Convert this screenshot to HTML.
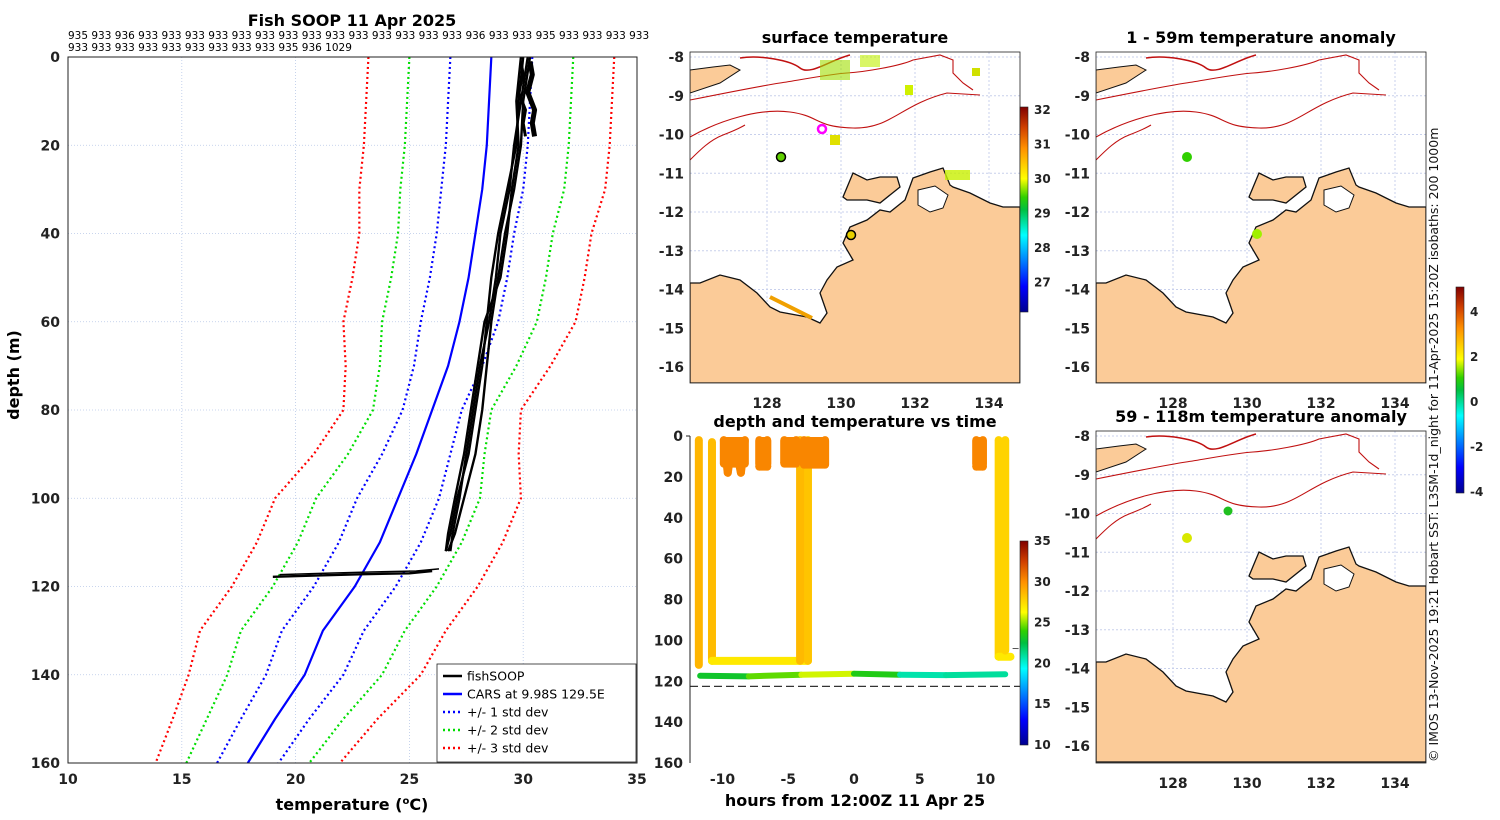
<!DOCTYPE html>
<html><head><meta charset="utf-8"><style>
body{margin:0;background:#fff;overflow:hidden;}
svg{display:block;font-family:"DejaVu Sans","Liberation Sans",sans-serif;}
.t{font-weight:bold;font-size:16px;}
.tk{font-weight:bold;font-size:14px;fill:#222;}
.cb{font-weight:bold;font-size:12px;fill:#222;}
</style></head><body>
<svg id="fig" width="1500" height="820" viewBox="0 0 1500 820">
<defs>
<clipPath id="cl"><rect x="68" y="57" width="569" height="706"/></clipPath>
<clipPath id="cm"><rect x="690" y="436" width="330" height="327"/></clipPath>
<linearGradient id="jetv" x1="0" y1="1" x2="0" y2="0">
<stop offset="0" stop-color="#00008f"/><stop offset="0.125" stop-color="#0000ff"/><stop offset="0.375" stop-color="#00ffff"/><stop offset="0.5" stop-color="#00c040"/><stop offset="0.56" stop-color="#30d000"/><stop offset="0.65" stop-color="#ffff00"/><stop offset="0.8" stop-color="#ff9000"/><stop offset="0.9" stop-color="#d04000"/><stop offset="1" stop-color="#800000"/>
</linearGradient>
</defs>
<g id="left"></g>
<g id="mid"></g>
<g id="maps"></g>
<text x="0" y="0" transform="translate(1438,762) rotate(-90)" font-size="12.5" fill="#111">© IMOS 13-Nov-2025 19:21 Hobart SST: L3SM-1d_night for 11-Apr-2025 15:20Z isobaths: 200  1000m</text>
</svg>
<script>
const NS="http://www.w3.org/2000/svg";
function mk(p,tag,at,txt){const e=document.createElementNS(NS,tag);for(const k in at)e.setAttribute(k,at[k]);if(txt!==undefined)e.textContent=txt;p.appendChild(e);return e;}

// ---------- profile chart data ----------
const profDepths=[0,10,20,30,40,50,60,70,80,90,100,110,120,130,140,150,160];
const carsMean=[28.6,28.5,28.4,28.2,27.9,27.6,27.2,26.7,26.0,25.3,24.5,23.7,22.6,21.2,20.4,19.1,17.9];
const carsStd=[1.8,1.8,1.8,1.8,1.7,1.7,1.7,1.5,1.3,1.5,1.8,1.8,1.8,1.8,1.7,1.5,1.35];
const tempTicks=[10,15,20,25,30,35];
const depthTicks=[0,20,40,60,80,100,120,140,160];
const castDepths=[0,10,20,30,40,50,60,70,80,90,100,108,112];
const castA=[30.3,30.0,29.9,29.6,29.2,28.9,28.6,28.4,28.2,27.9,27.4,27.0,26.7];
const castB=[30.0,29.8,29.7,29.3,28.9,28.6,28.4,28.2,27.9,27.6,27.1,26.8,26.6];
const castC=[30.2,29.9,29.6,29.4,29.0,28.8,28.5,28.1,27.8,27.5,27.2,26.9,26.8];
const castD=[29.9,29.7,29.8,29.5,29.3,29.0,28.3,28.0,27.7,27.4,27.0,26.7,26.6];
const surfDepths=[1,4,8,12,15,18];
const surfTemps=[30.3,30.4,30.2,30.5,30.4,30.5];
const bottomTemps=[19.0,21.0,23.0,25.0,26.0];
const bottomDepths=[117.8,117.5,117.2,117.0,116.5];
const header1="935 933 936 933 933 933 933 933 933 933 933 933 933 933 933 933 933 936 933 933 935 933 933 933 933";
const header2="933 933 933 933 933 933 933 933 933 935 936 1029";

const L=document.getElementById('left');
const lx=t=>68+(t-10)*569/25, ly=d=>57+d*706/160;
mk(L,'text',{x:352,y:26,'text-anchor':'middle',class:'t',},'Fish SOOP 11 Apr 2025');
mk(L,'text',{x:68,y:39,'font-size':10.5,},header1);
mk(L,'text',{x:68,y:51,'font-size':10.5,},header2);
tempTicks.forEach(t=>{
 mk(L,'line',{x1:lx(t),x2:lx(t),y1:57,y2:763,stroke:'#b8c8e8','stroke-dasharray':'1 2','stroke-width':0.8});
 mk(L,'text',{x:lx(t),y:784,'text-anchor':'middle',class:'tk',},t);
});
depthTicks.forEach(d=>{
 mk(L,'line',{x1:68,x2:637,y1:ly(d),y2:ly(d),stroke:'#b8c8e8','stroke-dasharray':'1 2','stroke-width':0.8});
 mk(L,'text',{x:60,y:ly(d)+5,'text-anchor':'end',class:'tk',},d);
});
const lg=mk(L,'g',{'clip-path':'url(#cl)'});
function prof(temps,depths,col,dash,w,name){
 const e=mk(lg,'polyline',{points:temps.map((t,i)=>lx(t)+','+ly(depths[i])).join(' '),fill:'none',stroke:col,'stroke-width':w,'stroke-dasharray':dash||'none','stroke-linejoin':'round'});
 
 
}
[[3,'#ff0000','std3'],[2,'#00dd00','std2'],[1,'#0000ff','std1']].forEach(([k,c,n])=>{
 prof(carsMean.map((m,i)=>m-k*carsStd[i]),profDepths,c,'2 3',2.2,n+'-left-line');
 prof(carsMean.map((m,i)=>m+k*carsStd[i]),profDepths,c,'2 3',2.2,n+'-right-line');
});
prof(carsMean,profDepths,'#0000ff',null,2.2,'cars-line');
[castA,castB,castC,castD].forEach((c,i)=>prof(c,castDepths,'#000',null,2.4,'fishsoop-cast-'+i));
prof(surfTemps,surfDepths,'#000',null,5,'fishsoop-surface');
prof(surfTemps.map(t=>t-0.4),surfDepths,'#000',null,3,'fishsoop-surface-2');
prof(bottomTemps,bottomDepths,'#000',null,2.4,'fishsoop-bottom');
prof(bottomTemps.map(t=>t+0.3),bottomDepths.map(d=>d-0.5),'#000',null,1.5,'fishsoop-bottom-2');
mk(L,'rect',{x:68,y:57,width:569,height:706,fill:'none',stroke:'#222','stroke-width':1,});
mk(L,'text',{x:0,y:0,transform:'translate(19,375) rotate(-90)','text-anchor':'middle',class:'t','font-size':15,},'depth (m)');
const xt=mk(L,'text',{x:352,y:810,'text-anchor':'middle',class:'t','font-size':15,});
xt.innerHTML='temperature (<tspan font-size="10" dy="-6">o</tspan><tspan dy="6">C)</tspan>';
const leg=mk(L,'g',{});
mk(leg,'rect',{x:437,y:664,width:199,height:98,fill:'#fff',stroke:'#222','stroke-width':0.8});
[['fishSOOP','#000',null],['CARS at 9.98S 129.5E','#0000ff',null],['+/- 1 std dev','#0000ff','2 3'],['+/- 2 std dev','#00dd00','2 3'],['+/- 3 std dev','#ff0000','2 3']].forEach(([s,c,d],i)=>{
 const y=676+i*18;
 mk(leg,'line',{x1:443,x2:462,y1:y,y2:y,stroke:c,'stroke-width':2.4,'stroke-dasharray':d||'none'});
 mk(leg,'text',{x:467,y:y+4.5,'font-size':12.5,},s);
});

// ---------- depth vs time ----------
const cmStops=[[0,[0,0,143]],[0.125,[0,0,255]],[0.375,[0,255,255]],[0.5,[0,192,64]],[0.56,[48,208,0]],[0.65,[255,255,0]],[0.8,[255,144,0]],[0.9,[208,64,0]],[1,[128,0,0]]];
function jet(v){v=Math.max(0,Math.min(1,v));for(let i=0;i<cmStops.length-1;i++){const [a,ca]=cmStops[i],[b,cb]=cmStops[i+1];if(v<=b){const f=(v-a)/(b-a);return 'rgb('+ca.map((c,j)=>Math.round(c+(cb[j]-c)*f)).join(',')+')';}}return 'rgb(128,0,0)';}
const hourTicks=[-10,-5,0,5,10];
const tdDepthTicks=[0,20,40,60,80,100,120,140,160];
const trackHours=[
 [-11.8,-11.8],[-10.8,-10.8,-3.5,-3.5],[-4.1,-4.1],[-9.9,-9.6,-9.3,-9.0,-8.6,-8.3],[-7.2,-7.2,-6.6,-6.6],[-5.3,-5.3,-4.4,-4.4],
 [-3.8,-3.8,-2.2,-2.2],[9.3,9.3,9.8,9.8],[11.0,11.0,11.9],[11.5,11.5]];
const trackDepths=[
 [2,112],[3,110,110,2],[2,110],[2,18,5,5,18,2],[2,15,15,2],[2,13,13,2],[2,14,14,2],[2,15,15,2],[2,108,108],[2,105]];
const trackTemps=[
 [30.0,27.5],[30,27,27,29.5],[30,27.2],[30.3,30.3,30.3,30.3,30.3,30.3],[30.3,30.3,30.3,30.3],[30.3,30.3,30.3,30.3],[30.3,30.3,30.3,30.3],[30.3,30.3,30.3,30.3],[28.5,27,27],[28.5,27]];
const bandHours=[-11.7,-8,-4,0,3.5,7,11.5];
const bandDepths=[117.3,117.6,116.8,116.3,116.8,117,116.6];
const bandTemps=[22.5,23.5,25.5,26,21,20.5,21.5];
const M=document.getElementById('mid');
const mx=h=>854+h*13.15, my=d=>436+d*327/160;
mk(M,'text',{x:855,y:427,'text-anchor':'middle',class:'t',},'depth and temperature vs time');
tdDepthTicks.forEach(d=>mk(M,'text',{x:683,y:my(d)+5,'text-anchor':'end',class:'tk',},d));
hourTicks.forEach(h=>mk(M,'text',{x:mx(h),y:784,'text-anchor':'middle',class:'tk',},h));
mk(M,'text',{x:855,y:806,'text-anchor':'middle',class:'t','font-size':15,},'hours from 12:00Z 11 Apr 25');
const mg=mk(M,'g',{'clip-path':'url(#cm)'});
const tnorm=t=>(t-10)/25;
function track(hs,ds,ts,w,name){
 for(let i=0;i<hs.length-1;i++){
  const e=mk(mg,'line',{x1:mx(hs[i]),y1:my(ds[i]),x2:mx(hs[i+1]),y2:my(ds[i+1]),stroke:jet(tnorm((ts[i]+ts[i+1])/2)),'stroke-width':w,'stroke-linecap':'round'});
  
  
 }
}
mk(mg,'line',{x1:mx(-10.5),x2:mx(-3.8),y1:my(110.5),y2:my(110.5),stroke:'#333','stroke-dasharray':'8 4','stroke-width':1.5});
mk(mg,'line',{x1:690,x2:1020,y1:my(122.5),y2:my(122.5),stroke:'#333','stroke-dasharray':'8 4','stroke-width':1.2});
mk(mg,'line',{x1:mx(11.3),x2:1020,y1:my(104),y2:my(104),stroke:'#555','stroke-dasharray':'6 4','stroke-width':1});
trackHours.forEach((h,i)=>track(h,trackDepths[i],trackTemps[i],8,'cast-track-'+i));
[[-9.9,-8.3],[-7.2,-6.6],[-5.3,-4.4],[-3.8,-2.2],[9.3,9.8]].forEach(([a,b])=>{
 const e=mk(mg,'rect',{x:mx(a)-4,y:my(0)+1,width:mx(b)-mx(a)+8,height:my(15)-my(0),rx:4,fill:jet(tnorm(30.3))});
 
 
});
track(bandHours,bandDepths,bandTemps,6,'bottom-band');
mk(M,'path',{d:'M690,436 V763 M690,436 h-4',stroke:'#222',fill:'none','stroke-width':1,});
const tdCbTicks=[35,30,25,20,15,10];
mk(M,'rect',{x:1020,y:541,width:8,height:204,fill:'url(#jetv)',stroke:'#222','stroke-width':0.6,});
tdCbTicks.forEach(v=>mk(M,'text',{x:1034,y:541+(35-v)/25*204+4,class:'cb',},v));

// ---------- maps ----------
const G=document.getElementById('maps');
const land="M690,283 L700,283 720,275 740,280 757,293 770,307 780,312 807,317 820,323 827,313 820,293 827,280 837,267 853,260 843,243 850,227 867,220 880,210 890,212 905,200 913,178 930,172 943,168 950,185 953,187 970,193 990,203 1003,207 1020,207 L1020,383 690,383 Z";
const bay="M918,190 L935,186 948,195 943,208 930,212 918,205 Z";
const tiwi="M843,197 L853,173 867,180 880,177 897,177 900,187 880,203 867,200 847,200 Z";
const timor="M690,70 L713,67 730,65 740,70 720,83 690,93 Z";
const iso1="M690,137 C720,120 760,108 790,112 S815,127 853,128 S900,105 947,93 L980,95";
const iso2="M690,100 C730,92 760,86 780,83 S830,74 847,73 S900,66 913,60 L940,55 953,60 953,73 963,83 973,90";
const iso3="M690,160 C700,150 710,140 723,135 S740,128 745,125";
function drawMap(x0,y0,w,h,title,name,lats,pts){
 const g=mk(G,'g',{});
 mk(g,'text',{x:x0+165,y:y0-9,'text-anchor':'middle',class:'t'},title);
 const cid='c'+name;const cp=mk(g,'clipPath',{id:cid});mk(cp,'rect',{x:x0,y:y0,width:w,height:h});
 const inner=mk(g,'g',{'clip-path':`url(#${cid})`});
 const t=mk(inner,'g',{transform:`translate(${x0-690},${y0-52})`});
 [767,841,915,989].forEach(x=>mk(t,'line',{x1:x,x2:x,y1:52,y2:383,stroke:'#c8d0ec','stroke-dasharray':'2 2'}));
 for(let i=0;i<9;i++){const y=52+5+i*38.75;mk(t,'line',{x1:690,x2:1020,y1:y,y2:y,stroke:'#c8d0ec','stroke-dasharray':'2 2'});}
 mk(t,'path',{d:land,fill:'#fbcb98',stroke:'#111','stroke-width':1.3});
 mk(t,'path',{d:bay,fill:'#fff',stroke:'#111','stroke-width':1});
 mk(t,'path',{d:tiwi,fill:'#fbcb98',stroke:'#111','stroke-width':1.3});
 mk(t,'path',{d:timor,fill:'#fbcb98',stroke:'#111','stroke-width':1});
 [iso1,iso2,iso3].forEach(d=>mk(t,'path',{d,fill:'none',stroke:'#c01010','stroke-width':1.1}));
 mk(t,'path',{d:'M740,58 C760,55 790,60 800,68 S830,60 850,55',fill:'none',stroke:'#c01010','stroke-width':1.5});
 pts.forEach(p=>mk(t,p[0],p[1]));
 mk(g,'rect',{x:x0,y:y0,width:w,height:h,fill:'none',stroke:'#222','stroke-width':0.8});
 lats.forEach((l,i)=>mk(g,'text',{x:x0-6,y:y0+5+i*38.75+5,'text-anchor':'end',class:'tk'},l));
 [128,130,132,134].forEach((l,i)=>mk(g,'text',{x:x0+77+i*74,y:Math.min(y0+h+25,788),'text-anchor':'middle',class:'tk'},l));
}
const lats=[-8,-9,-10,-11,-12,-13,-14,-15,-16];
const sstPts=[['rect',{x:820,y:60,width:30,height:20,fill:'#a0e000',opacity:0.6}],['rect',{x:860,y:55,width:20,height:12,fill:'#c0f000',opacity:0.6}],['rect',{x:905,y:85,width:8,height:10,fill:'#d0f000'}],['rect',{x:972,y:68,width:8,height:8,fill:'#d0e000'}],['rect',{x:830,y:135,width:10,height:10,fill:'#e0e000'}],['rect',{x:945,y:170,width:25,height:10,fill:'#c8f000',opacity:0.8}],['path',{d:'M770,297 L800,312 812,318',stroke:'#f0a000','stroke-width':4,fill:'none'}],['circle',{cx:822,cy:129,r:4,fill:'none',stroke:'#ff00ff','stroke-width':2.5}],['circle',{cx:781,cy:157,r:4.5,fill:'#60d000',stroke:'#000','stroke-width':1.5}],['circle',{cx:851,cy:235,r:4.5,fill:'#e8d000',stroke:'#000','stroke-width':1.5}]];
drawMap(690,52,330,331,'surface temperature','map-surface-temperature',lats,sstPts);
drawMap(1096,52,330,331,'1 - 59m temperature anomaly','map-anomaly-1-59m',lats,[['circle',{cx:781,cy:157,r:5,fill:'#30d000'}],['circle',{cx:851,cy:234,r:5,fill:'#a0f000'}]]);
drawMap(1096,431,330,332,'59 - 118m temperature anomaly','map-anomaly-59-118m',lats,[['circle',{cx:822,cy:132,r:4.5,fill:'#20c020'}],['circle',{cx:781,cy:159,r:5,fill:'#d8e800'}]]);
const sstTicks=[32,31,30,29,28,27];
mk(G,'rect',{x:1020,y:107,width:8,height:205,fill:'url(#jetv)',stroke:'#222','stroke-width':0.6,});
sstTicks.forEach((v,i)=>mk(G,'text',{x:1034,y:114+i*34.5,class:'cb',},v));
const anomTicks=[4,2,0,-2,-4];
mk(G,'rect',{x:1456,y:287,width:8,height:206,fill:'url(#jetv)',stroke:'#222','stroke-width':0.6,});
anomTicks.forEach((v,i)=>mk(G,'text',{x:1470,y:316+i*45,class:'cb',},v));
</script>
</body></html>
